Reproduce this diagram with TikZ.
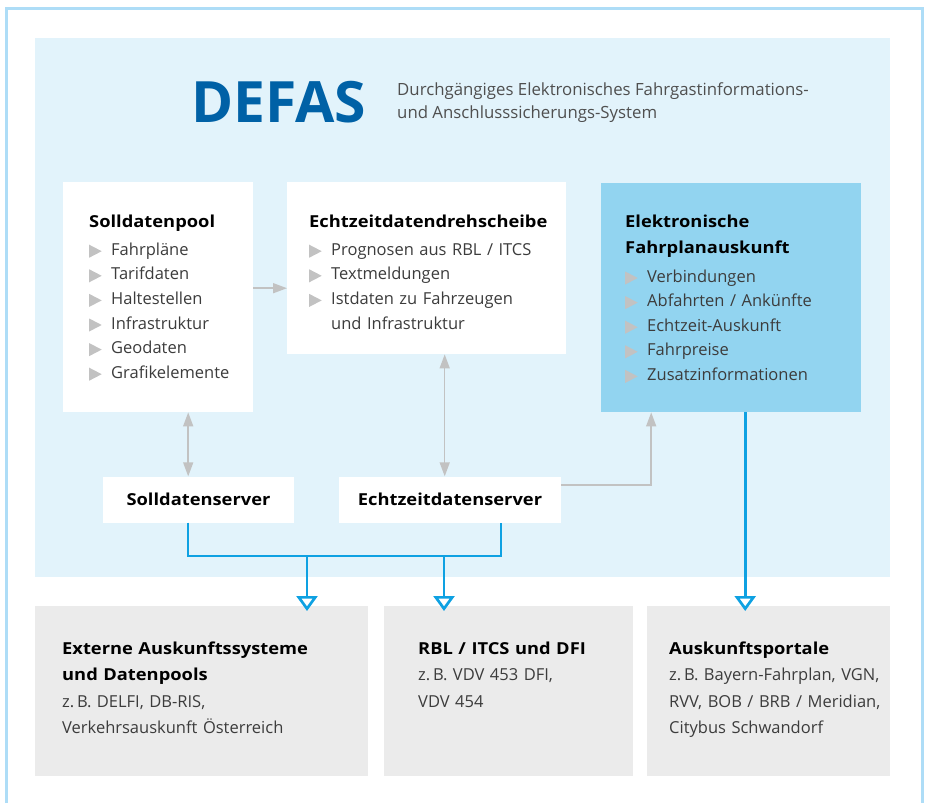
\documentclass[tikz,border=0pt]{standalone}
\usepackage{fontspec}
\setmainfont{Open Sans}
\newfontfamily\hdfont{Open Sans}[FakeStretch=1.11]
\usetikzlibrary{arrows.meta,calc,positioning}

\definecolor{framecol}{HTML}{AEDDF7}
\definecolor{panelcol}{HTML}{E2F3FB}
\definecolor{efacol}{HTML}{92D4F0}
\definecolor{defasblue}{HTML}{0061A6}
\definecolor{linkblue}{HTML}{0EA1E2}
\definecolor{arrgray}{HTML}{C2C2C2}
\definecolor{boxgray}{HTML}{EBEBEB}
\definecolor{itemgray}{HTML}{3C3C3C}
\definecolor{subgray}{HTML}{4F4F4F}

\newcommand{\tri}{\tikz[baseline=0pt]\fill[arrgray] (0pt,-2.5pt) -- (0pt,10.5pt) -- (12.5pt,4pt) -- cycle;\hspace{9.5pt}}
\newcommand{\itm}[1]{\mbox{\tri#1}}
\newcommand{\hd}[1]{\textcolor{black}{\hdfont\bfseries #1}}

\begin{document}
\begin{tikzpicture}[x=1pt, y=-1pt,
  box/.style={anchor=north west, inner ysep=0pt, align=left, text=itemgray, font=\fontsize{16.5}{24.6}\selectfont},
  pool/.style={box, fill=white},
  extbox/.style={box, fill=boxgray, font=\fontsize{16.5}{26.5}\selectfont},
  server/.style={fill=white, minimum height=46, inner sep=0pt, font=\hdfont\bfseries\fontsize{16.5}{20}\selectfont},
  garrow/.style={draw=arrgray, line width=1.5pt, >={Triangle[length=14pt,width=10pt]}},
  bline/.style={draw=linkblue, line width=2.7pt},
  barrow/.style={bline, -{Triangle[open,length=15pt,width=21pt]}}]
\useasboundingbox (0,0) rectangle (925,803);
\fill[panelcol] (35,38) rectangle (890,577);
\draw[framecol, line width=3pt] (6.5,803) -- (6.5,8) -- (922.5,8) -- (922.5,803);

\node[anchor=base west, inner sep=0pt, text=defasblue, font=\bfseries\fontsize{57}{57}\selectfont] (defas) at (191,122) {DEFAS};
\node[anchor=base west, inner sep=0pt, align=left, text=subgray, font=\fontsize{16.8}{23}\selectfont] (subtitle) at (397,118)
  {Durchgängiges Elektronisches Fahrgastinformations-\\und Anschlusssicherungs-System};

\node[pool, inner xsep=26, text width=138, text height=45, text depth=185] (soll) at (63,182)
  {\hd{Solldatenpool}\\[3.4pt] \itm{Fahrpläne}\\ \itm{Tarifdaten}\\ \itm{Haltestellen}\\ \itm{Infrastruktur}\\ \itm{Geodaten}\\ \itm{Grafikelemente}};
\node[pool, inner xsep=22, text width=235, text height=45, text depth=127] (drehs) at (287,182)
  {\hd{Echtzeitdatendrehscheibe}\\[3.4pt] \itm{Prognosen aus RBL / ITCS}\\ \itm{Textmeldungen}\\ \itm{Istdaten zu Fahrzeugen}\\ \hspace*{22pt}und Infrastruktur};
\node[box, fill=efacol, inner xsep=24, text width=212, text height=44, text depth=185] (efa) at (601,183)
  {\hd{Elektronische}\\[1.9pt] \hd{Fahrplanauskunft}\\[3.7pt] \itm{Verbindungen}\\ \itm{Abfahrten / Ankünfte}\\ \itm{Echtzeit-Auskunft}\\ \itm{Fahrpreise}\\ \itm{Zusatzinformationen}};

\node[server, minimum width=191] (sserv) at (198.5,499.5) {Solldatenserver};
\node[server, minimum width=222] (ezserv) at (450,499.5) {Echtzeitdatenserver};

\node[extbox, inner xsep=27, text width=279, text height=48, text depth=122] (ext) at (35,606)
  {\hd{Externe Auskunftssysteme}\\ \hd{und Datenpools}\\ z.\,B. DELFI, DB-RIS,\\ \mbox{Verkehrsauskunft Österreich}};
\node[extbox, inner xsep=34, text width=181, text height=48, text depth=122] (rbl) at (384,606)
  {\hd{RBL / ITCS und DFI}\\ z.\,B. VDV 453 DFI,\\ VDV 454};
\node[extbox, inner xsep=22, text width=199, text height=48, text depth=122] (portal) at (647,606)
  {\hd{Auskunftsportale}\\ \mbox{z.\,B. Bayern-Fahrplan, VGN,}\\ \mbox{RVV, BOB / BRB / Meridian,}\\ Citybus Schwandorf};

\coordinate (g1) at ([xshift=30]soll.south);
\coordinate (g2) at ([yshift=9]soll.east);
\coordinate (g3) at ([xshift=18]drehs.south);
\coordinate (g4) at ([yshift=14.5]ezserv.east);
\draw[garrow,<->] (g1) -- (g1 |- sserv.north);
\draw[garrow,->] (g2) -- (g2 -| drehs.west);
\draw[garrow,<->] (g3) -- (g3 |- ezserv.north);
\draw[garrow,->] (g4) -| ([xshift=-80]efa.south);

\coordinate (b1) at (307,556);
\coordinate (b2) at (444,556);
\coordinate (b3) at ([xshift=14]efa.south);
\draw[bline] ([xshift=-10.5]sserv.south) |- (b1) -- (b2) -| ([xshift=51]ezserv.south);
\draw[barrow] (b1) -- ($(b1 |- ext.north)+(0,5)$);
\draw[barrow] (b2) -- ($(b2 |- rbl.north)+(0,5)$);
\draw[barrow] (b3) -- ($(b3 |- portal.north)+(0,5)$);
\end{tikzpicture}
\end{document}
